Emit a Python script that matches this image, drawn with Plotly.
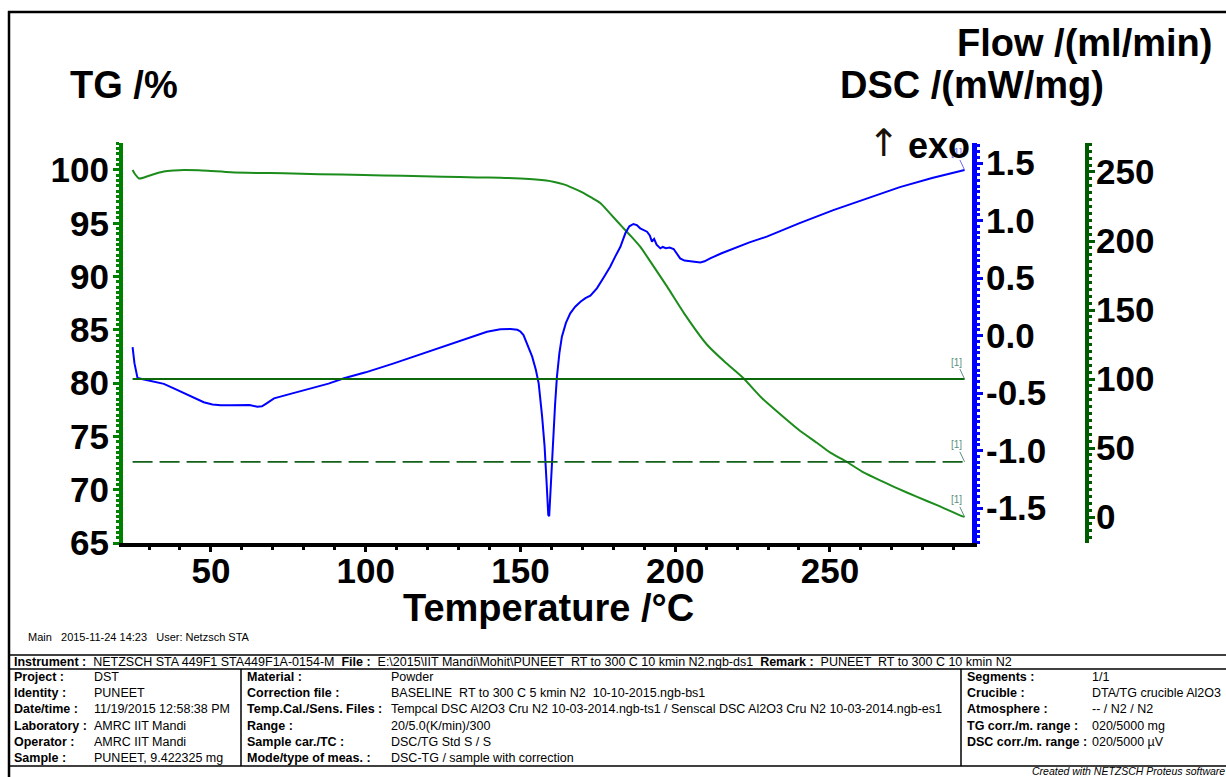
import plotly.graph_objects as go

# ---------------- data ----------------
tg_temp = [24.7, 25.5, 26.8, 28.4, 31, 34.8, 38, 41.3, 46, 50, 56.5, 65, 73.5, 85, 99.4, 112, 125, 136,
           143.5, 150, 155, 160.6, 164, 167, 170, 173, 175.8, 179, 183.2, 186, 188.7, 192, 197.4, 203,
           210.3, 216, 221.9, 228, 234.8, 240, 245.8, 250, 255.5, 261, 267.1, 272, 278, 285, 292.9, 293.5]
tg_vals = [100.0, 99.6, 99.2, 99.3, 99.55, 99.85, 99.95, 100.0, 99.97, 99.9, 99.78, 99.72, 99.69, 99.6,
           99.53, 99.45, 99.37, 99.3, 99.28, 99.2, 99.1, 98.9, 98.65, 98.3, 97.9, 97.4, 96.9, 95.9, 94.56,
           93.7, 92.8, 91.4, 89.05, 86.5, 83.6, 82.0, 80.5, 78.6, 76.86, 75.6, 74.4, 73.5, 72.6, 71.6,
           70.76, 70.1, 69.35, 68.5, 67.5, 67.45]

dsc_temp = [24.7, 25.3, 26.3, 28, 30.6, 34.8, 38, 41.3, 44.5, 47.7, 50.5, 53.2, 56.5, 59.7, 62.5, 65,
            66.5, 68, 70.4, 76, 82.3, 88, 93, 100, 109.1, 117, 125.3, 132, 139.2, 143.5, 146.8, 149,
            150, 151, 152.5, 153.8, 155, 155.9, 157, 157.8, 158.5, 159.0, 159.3, 159.8, 160.5, 161.2,
            161.8, 162.6, 163.4, 164.7, 166.1, 167.7, 169.4, 171, 172.6, 174.7, 176.8, 179, 180.7,
            182.3, 183.9, 185.2, 186.5, 187.6, 188.7, 190, 190.9, 191.8, 192.5, 193.2, 194, 195.2,
            196, 197, 198.2, 199.5, 200.5, 201.6, 203, 204.8, 206.5, 208.1, 209.5, 211.3, 215, 218.8,
            224, 229.6, 240, 251.1, 262, 272.6, 283, 293.5]
dsc_vals = [-0.10, -0.24, -0.37, -0.38, -0.39, -0.42, -0.46, -0.50, -0.54, -0.58, -0.60, -0.607, -0.607,
            -0.604, -0.605, -0.619, -0.615, -0.59, -0.546, -0.505, -0.46, -0.418, -0.372, -0.32, -0.242,
            -0.17, -0.097, -0.035, 0.033, 0.055, 0.057, 0.050, 0.035, 0.004, -0.09, -0.184, -0.30, -0.416,
            -0.70, -0.96, -1.30, -1.56, -1.57, -1.30, -0.94, -0.60, -0.358, -0.15, -0.01, 0.11, 0.193,
            0.25, 0.294, 0.325, 0.346, 0.41, 0.50, 0.598, 0.69, 0.772, 0.889, 0.95, 0.97, 0.96, 0.932,
            0.915, 0.903, 0.87, 0.816, 0.84, 0.79, 0.758, 0.77, 0.76, 0.765, 0.752, 0.71, 0.671, 0.652,
            0.648, 0.640, 0.636, 0.645, 0.671, 0.715, 0.758, 0.81, 0.86, 0.975, 1.09, 1.19, 1.29, 1.37,
            1.44]

flow_temp = [24.7, 293.5]
flow_purge = [100, 100]
flow_protective = [40, 40]

x_ticks = [50, 100, 150, 200, 250]
tg_ticks = [65, 70, 75, 80, 85, 90, 95, 100]
dsc_ticks = [-1.5, -1.0, -0.5, 0.0, 0.5, 1.0, 1.5]
dsc_ticktext = ["-1.5", "-1.0", "-0.5", "0.0", "0.5", "1.0", "1.5"]
flow_ticks = [0, 50, 100, 150, 200, 250]

W, H = 1226, 777
FONT = "Liberation Sans, Arial, sans-serif"


def px(x):
    return x / W


def py(y):
    return 1 - y / H


fig = go.Figure()
fig.add_trace(go.Scatter(x=flow_temp, y=flow_purge, yaxis="y3", mode="lines",
                         line=dict(color="#0b680b", width=2), hoverinfo="skip"))
fig.add_trace(go.Scatter(x=flow_temp, y=flow_protective, yaxis="y3", mode="lines",
                         line=dict(color="#12601a", width=1.8, dash="20px,7px"), hoverinfo="skip"))
fig.add_trace(go.Scatter(x=tg_temp, y=tg_vals, yaxis="y", mode="lines", line_shape="spline",
                         line=dict(color="#1c8c1c", width=2, smoothing=0.6)))
fig.add_trace(go.Scatter(x=dsc_temp, y=dsc_vals, yaxis="y2", mode="lines",
                         line=dict(color="#0000ff", width=2)))

ydom = [py(543), py(143)]
tickfont = dict(family=FONT, size=35, color="black", weight="bold")

fig.update_layout(
    width=W, height=H, autosize=False,
    margin=dict(l=0, r=0, t=0, b=0, pad=0, autoexpand=False),
    paper_bgcolor="white", plot_bgcolor="white",
    showlegend=False,
    xaxis=dict(domain=[px(123), px(972)], range=[21.6, 295.9], anchor="y", automargin=False,
               showline=True, linecolor="black", linewidth=4, showgrid=False, zeroline=False,
               tickvals=x_ticks, ticks="outside", ticklen=5, tickwidth=3, tickcolor="black",
               minor=dict(dtick=10, tick0=0, ticks="outside", ticklen=3, tickwidth=3, tickcolor="black"),
               tickfont=tickfont, ticklabelstandoff=-11),
    yaxis=dict(domain=ydom, range=[65, 102.53], anchor="x", side="left", automargin=False,
               showline=True, linecolor="#008000", linewidth=4, showgrid=False, zeroline=False,
               tickvals=tg_ticks, ticks="outside", ticklen=6, tickwidth=3, tickcolor="#008000",
               minor=dict(dtick=0.5, tick0=0, ticks="outside", ticklen=3, tickwidth=2.5, tickcolor="#008000"),
               tickfont=tickfont, ticklabelstandoff=-3),
    yaxis2=dict(domain=ydom, range=[-1.804, 1.674], anchor="x", overlaying="y", side="right",
                automargin=False,
                showline=True, linecolor="#0000ff", linewidth=5, showgrid=False, zeroline=False,
                tickvals=dsc_ticks, ticktext=dsc_ticktext, ticks="outside", ticklen=6, tickwidth=3,
                tickcolor="#0000ff",
                minor=dict(dtick=0.05, tick0=0, ticks="outside", ticklen=3, tickwidth=2.5, tickcolor="#0000ff"),
                tickfont=tickfont, ticklabelstandoff=-4),
    yaxis3=dict(domain=ydom, range=[-18.8, 271], anchor="free", position=px(1087), overlaying="y",
                side="right", automargin=False, showline=True, linecolor="#005a00", linewidth=4,
                showgrid=False, zeroline=False, tickvals=flow_ticks, ticks="outside", ticklen=6,
                tickwidth=3, tickcolor="#005a00",
                minor=dict(dtick=5, tick0=0, ticks="outside", ticklen=3, tickwidth=2.5, tickcolor="#005a00"),
                tickfont=tickfont, ticklabelstandoff=-6),
)

ann = []
big = dict(family=FONT, size=38, color="black", weight="bold")
ann.append(dict(text="TG /%", x=px(68), y=py(85), xanchor="left", yanchor="middle", font=big))
ann.append(dict(text="DSC /(mW/mg)", x=px(838), y=py(85), xanchor="left", yanchor="middle", font=big))
ann.append(dict(text="Flow /(ml/min)", x=px(955), y=py(43), xanchor="left", yanchor="middle", font=big))
ann.append(dict(text="Temperature /°C", x=px(548), y=py(608), xanchor="center", yanchor="middle", font=big))

# [1] markers at curve ends
lab_col = "#5a9080"
ann.append(dict(text="[1]", x=dsc_temp[-1], y=dsc_vals[-1], xref="x", yref="y2", showarrow=True,
                arrowhead=0, arrowwidth=1, arrowcolor="#6a6aff", ax=-8, ay=-17,
                font=dict(family=FONT, size=10, color="#6a6aff")))
ann.append(dict(text="↑", x=px(884), y=py(143), xanchor="center", yanchor="middle",
                font=dict(family="DejaVu Sans, sans-serif", size=38, color="#1a1008")))
ann.append(dict(text="exo", x=px(906), y=py(145), xanchor="left", yanchor="middle",
                font=dict(family=FONT, size=36, color="black", weight="bold")))
ann.append(dict(text="[1]", x=flow_temp[-1], y=flow_purge[-1], xref="x", yref="y3", showarrow=True,
                arrowhead=0, arrowwidth=1, arrowcolor=lab_col, ax=-8, ay=-17,
                font=dict(family=FONT, size=10, color=lab_col)))
ann.append(dict(text="[1]", x=flow_temp[-1], y=flow_protective[-1], xref="x", yref="y3", showarrow=True,
                arrowhead=0, arrowwidth=1, arrowcolor=lab_col, ax=-8, ay=-17,
                font=dict(family=FONT, size=10, color=lab_col)))
ann.append(dict(text="[1]", x=tg_temp[-1], y=tg_vals[-1], xref="x", yref="y", showarrow=True,
                arrowhead=0, arrowwidth=1, arrowcolor=lab_col, ax=-8, ay=-17,
                font=dict(family=FONT, size=10, color=lab_col)))

small = dict(family=FONT, size=12.5, color="black")
ann.append(dict(text="Main   2015-11-24 14:23   User: Netzsch STA", x=px(26), y=py(637),
                xanchor="left", yanchor="middle", font=dict(family=FONT, size=11, color="black")))
ann.append(dict(text="<b>Instrument :</b>  NETZSCH STA 449F1 STA449F1A-0154-M  <b>File :</b>  "
                     "E:\\2015\\IIT Mandi\\Mohit\\PUNEET  RT to 300 C 10 kmin N2.ngb-ds1  "
                     "<b>Remark :</b>  PUNEET  RT to 300 C 10 kmin N2",
                x=px(12), y=py(662), xanchor="left", yanchor="middle", font=small))

rows_y = [677, 693, 709, 726, 742, 758]
col1_labels = ["Project :", "Identity :", "Date/time :", "Laboratory :", "Operator :", "Sample :"]
col1_values = ["DST", "PUNEET", "11/19/2015 12:58:38 PM", "AMRC IIT Mandi", "AMRC IIT Mandi",
               "PUNEET, 9.422325 mg"]
col2_labels = ["Material :", "Correction file :", "Temp.Cal./Sens. Files :", "Range :", "Sample car./TC :",
               "Mode/type of meas. :"]
col2_values = ["Powder", "BASELINE  RT to 300 C 5 kmin N2  10-10-2015.ngb-bs1",
               "Tempcal DSC Al2O3 Cru N2 10-03-2014.ngb-ts1 / Senscal DSC Al2O3 Cru N2 10-03-2014.ngb-es1",
               "20/5.0(K/min)/300", "DSC/TG Std S / S", "DSC-TG / sample with correction"]
col3_labels = ["Segments :", "Crucible :", "Atmosphere :", "TG corr./m. range :", "DSC corr./m. range :"]
col3_values = ["1/1", "DTA/TG crucible Al2O3", "-- / N2 / N2", "020/5000 mg", "020/5000 µV"]

for i, yy in enumerate(rows_y):
    ann.append(dict(text="<b>" + col1_labels[i] + "</b>", x=px(12), y=py(yy), xanchor="left",
                    yanchor="middle", font=small))
    ann.append(dict(text=col1_values[i], x=px(92), y=py(yy), xanchor="left", yanchor="middle", font=small))
    ann.append(dict(text="<b>" + col2_labels[i] + "</b>", x=px(245), y=py(yy), xanchor="left",
                    yanchor="middle", font=small))
    ann.append(dict(text=col2_values[i], x=px(389), y=py(yy), xanchor="left", yanchor="middle", font=small))
for i in range(len(col3_labels)):
    yy = rows_y[i]
    ann.append(dict(text="<b>" + col3_labels[i] + "</b>", x=px(965), y=py(yy), xanchor="left",
                    yanchor="middle", font=small))
    ann.append(dict(text=col3_values[i], x=px(1090), y=py(yy), xanchor="left", yanchor="middle", font=small))

ann.append(dict(text="<i>Created with NETZSCH Proteus software</i>", x=px(1030), y=py(771),
                xanchor="left", yanchor="middle", font=dict(family=FONT, size=10.5, color="black")))

for a in ann:
    a.setdefault("xref", "paper")
    a.setdefault("yref", "paper")
    a.setdefault("showarrow", False)
fig.update_layout(annotations=ann)

shapes = []


def hline(y, x0, x1, w=2):
    shapes.append(dict(type="line", xref="paper", yref="paper", x0=px(x0), x1=px(x1), y0=py(y), y1=py(y),
                       line=dict(color="black", width=w)))


def vline(x, y0, y1, w=2):
    shapes.append(dict(type="line", xref="paper", yref="paper", x0=px(x), x1=px(x), y0=py(y0), y1=py(y1),
                       line=dict(color="black", width=w)))


hline(12, 8, 1226, 2.5)
vline(9, 11, 777, 2.5)
hline(655, 9, 1226, 1.5)
hline(669, 9, 1226, 1.5)
hline(766, 9, 1226, 1.5)
vline(241, 669, 766, 1.5)
vline(961, 669, 766, 1.5)
fig.update_layout(shapes=shapes)

post = ("document.documentElement.style.margin='0';document.body.style.margin='0';"
        "document.body.style.padding='0';document.body.style.overflow='hidden';"
        "document.documentElement.style.overflow='hidden';")
fig.write_html("out.html", config={"displayModeBar": False}, post_script=post)
